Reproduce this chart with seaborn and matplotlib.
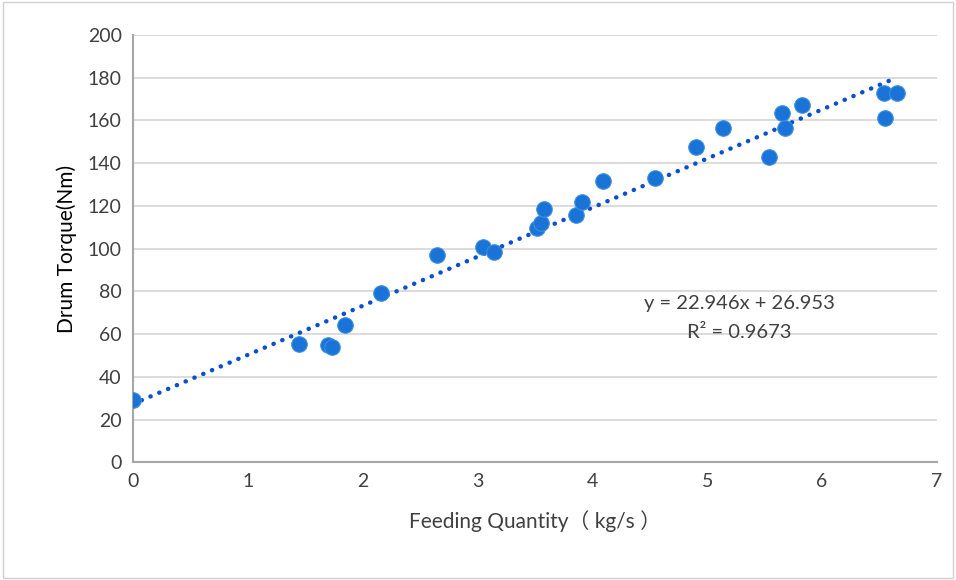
import matplotlib
matplotlib.use("Agg")
import matplotlib.pyplot as plt
import numpy as np
import pandas as pd
import seaborn as sns

# feeding quantity (kg/s) vs drum torque (Nm)
feed = [0.0, 1.45, 1.70, 1.73, 1.85, 2.16, 2.65, 3.05, 3.14, 3.52, 3.55,
        3.58, 3.86, 3.91, 4.09, 4.55, 4.90, 5.14, 5.54, 5.65, 5.68, 5.83,
        6.54, 6.55, 6.65]
torque = [29, 55.5, 55, 54, 64, 79, 97, 100.5, 98.5, 109.5, 112,
          118.5, 115.5, 122, 131.5, 133, 147.5, 156.5, 143, 163.5, 156.5, 167,
          173, 161, 173]

df = pd.DataFrame({"feed": feed, "torque": torque})

sns.set_theme(style="white")
plt.rcParams['font.family'] = ['Lato', 'DejaVu Sans']

fig = plt.figure(figsize=(9.56, 5.8), dpi=100)
ax = fig.add_axes([0.139, 0.203, 0.841, 0.737])

ax.yaxis.grid(True, color="#d9d9d9", lw=1.3)
ax.set_axisbelow(True)

sns.regplot(data=df, x="feed", y="torque", ax=ax, scatter=False, ci=None,
            line_kws={"color": "#0b4fcf", "lw": 3.2, "linestyle": (0, (0.05, 2.1)),
                      "dash_capstyle": "round", "zorder": 3})
sns.scatterplot(data=df, x="feed", y="torque", ax=ax, s=125, color="#1a73d6",
                edgecolor="#3d8fe0", linewidth=0.8, zorder=4)

ax.set_xlim(0, 7)
ax.set_ylim(0, 200)
ax.set_xticks(range(0, 8))
ax.set_yticks(range(0, 201, 20))
ax.tick_params(axis="both", labelsize=14, colors="#404040", length=0, pad=8)

for s in ["top", "right"]:
    ax.spines[s].set_visible(False)
for s in ["left", "bottom"]:
    ax.spines[s].set_color("#a6a6a6")
    ax.spines[s].set_linewidth(1.5)

ax.set_xlabel("Feeding Quantity（ kg/s ）", fontsize=15, color="#404040", labelpad=14)
ax.set_ylabel("Drum Torque(Nm)", fontsize=15, color="#000000", labelpad=8)
ax.xaxis.label.set_family(['Lato', 'Noto Sans CJK SC'])

ax.text(5.28, 74.5, "y = 22.946x + 26.953", ha="center", va="center",
        fontsize=14.5, color="#404040")
ax.text(5.28, 60.5, "R² = 0.9673", ha="center", va="center",
        fontsize=14.5, color="#404040")

fig.patches.append(plt.Rectangle((0.003, 0.003), 0.994, 0.994, transform=fig.transFigure,
                                 fill=False, edgecolor="#d0d0d0", lw=1))

fig.savefig("out.png", dpi=100)
